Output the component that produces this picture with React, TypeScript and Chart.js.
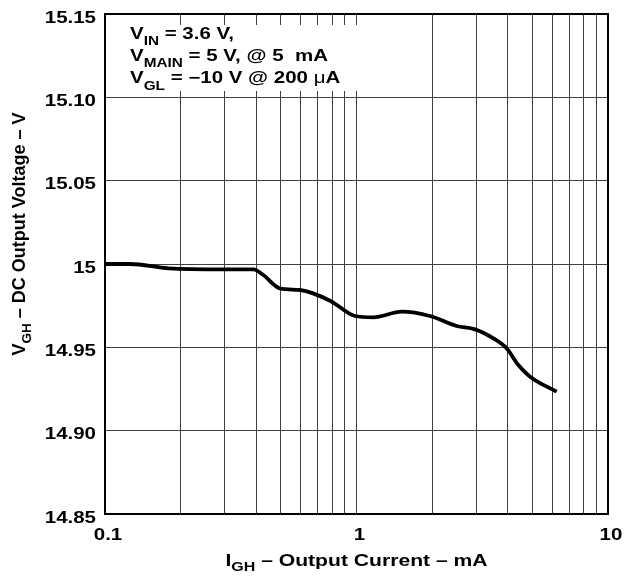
import React, { useEffect, useRef } from "react";
import { Chart, registerables } from "chart.js";

Chart.register(...registerables);

// ---- data ----
const CURRENT_MA = [0.1, 0.126, 0.179, 0.295, 0.389, 0.426, 0.496, 0.596, 0.785, 0.986, 1.166, 1.513, 1.96, 2.5, 2.96, 3.5, 3.95, 4.4, 4.9, 6.25];
const VOLTAGE_V = [15.0, 15.0, 14.9974, 14.9968, 14.9968, 14.9934, 14.9854, 14.9844, 14.978, 14.9688, 14.968, 14.9714, 14.9688, 14.9628, 14.9608, 14.9554, 14.9494, 14.9394, 14.9324, 14.9234];

const X_GRID_VALUES = [0.1, 0.2, 0.3, 0.4, 0.5, 0.6, 0.7, 0.8, 0.9, 1, 2, 3, 4, 5, 6, 7, 8, 9, 10];
const X_LABEL_VALUES = [0.1, 1, 10];
const X_TICK_LABELS = ["0.1", "1", "10"];
const Y_TICK_VALUES = [14.85, 14.9, 14.95, 15, 15.05, 15.1, 15.15];
const Y_TICK_LABELS = ["14.85", "14.90", "14.95", "15", "15.05", "15.10", "15.15"];

type Seg = { t: string; sub?: boolean; light?: boolean };

const X_TITLE: Seg[] = [{ t: "I" }, { t: "GH", sub: true }, { t: " – Output Current – mA" }];
const Y_TITLE: Seg[] = [{ t: "V" }, { t: "GH", sub: true }, { t: " – DC Output Voltage – V" }];
const NOTE_LINES: Seg[][] = [
  [{ t: "V" }, { t: "IN", sub: true }, { t: " = 3.6 V," }],
  [{ t: "V" }, { t: "MAIN", sub: true }, { t: " = 5 V, @ 5  mA" }],
  [{ t: "V" }, { t: "GL", sub: true }, { t: " = −10 V @ 200 " }, { t: "μ", light: true }, { t: "A" }],
];

const FAMILY = '"Liberation Sans", Arial, Helvetica, sans-serif';
const GRID_COLOR = "#404040";

function drawRich(
  ctx: CanvasRenderingContext2D,
  segs: Seg[],
  x: number,
  y: number,
  o: { size: number; subSize: number; subDy: number; sx: number; align: "left" | "center" | "right"; rotate?: boolean }
) {
  const fontOf = (s: Seg) => `${s.light ? "" : "bold "}${s.sub ? o.subSize : o.size}px ${FAMILY}`;
  let total = 0;
  const widths = segs.map((s) => {
    ctx.font = fontOf(s);
    const w = ctx.measureText(s.t).width;
    total += w;
    return w;
  });
  let start = o.align === "center" ? -total / 2 : o.align === "right" ? -total : 0;
  ctx.save();
  ctx.translate(x, y);
  if (o.rotate) ctx.rotate(-Math.PI / 2);
  ctx.scale(o.sx, 1);
  ctx.fillStyle = "#000";
  ctx.textBaseline = "alphabetic";
  ctx.textAlign = "left";
  segs.forEach((s, i) => {
    ctx.font = fontOf(s);
    ctx.fillText(s.t, start, s.sub ? o.subDy : 0);
    start += widths[i];
  });
  ctx.restore();
}

const textPlugin = {
  id: "textPlugin",
  beforeDatasetsDraw(chart: any) {
    const ctx: CanvasRenderingContext2D = chart.ctx;
    const { left } = chart.chartArea;
    ctx.save();
    ctx.fillStyle = "#fff";
    ctx.fillRect(left + 1, 25, 362 - left - 1, 66);
    ctx.restore();
    NOTE_LINES.forEach((line, i) => {
      drawRich(ctx, line, 130, 38.5 + i * 22.4, { size: 16, subSize: 12, subDy: 6.5, sx: 1.28, align: "left" });
    });
  },
  afterDraw(chart: any) {
    const ctx: CanvasRenderingContext2D = chart.ctx;
    const { left, top, right, bottom } = chart.chartArea;
    const xs = chart.scales.x;
    const ys = chart.scales.y;
    // frame
    ctx.save();
    ctx.strokeStyle = "#000";
    ctx.lineWidth = 2;
    ctx.strokeRect(left, top, right - left, bottom - top);
    ctx.restore();
    // y tick labels
    Y_TICK_VALUES.forEach((v, i) => {
      const py = ys.getPixelForValue(v);
      drawRich(ctx, [{ t: Y_TICK_LABELS[i] }], 96, py + 8.5, { size: 16, subSize: 12, subDy: 0, sx: 1.28, align: "right" });
    });
    // x tick labels
    X_LABEL_VALUES.forEach((v, i) => {
      const px = xs.getPixelForValue(v);
      drawRich(ctx, [{ t: X_TICK_LABELS[i] }], px + 3, bottom + 26, { size: 16, subSize: 12, subDy: 0, sx: 1.28, align: "center" });
    });
    // titles
    drawRich(ctx, X_TITLE, (left + right) / 2, 566, { size: 16.5, subSize: 12.5, subDy: 5, sx: 1.28, align: "center" });
    drawRich(ctx, Y_TITLE, 25, 234, { size: 18, subSize: 13.5, subDy: 5.5, sx: 1, align: "center", rotate: true });
  },
};

export default function App() {
  const ref = useRef<HTMLCanvasElement | null>(null);
  useEffect(() => {
    if (!ref.current) return;
    const chart = new Chart(ref.current, {
      type: "line",
      data: {
        datasets: [
          {
            data: CURRENT_MA.map((x, i) => ({ x, y: VOLTAGE_V[i] })),
            borderColor: "#000",
            borderWidth: 3.8,
            pointRadius: 0,
            fill: false,
            cubicInterpolationMode: "monotone",
          },
        ],
      },
      options: {
        responsive: true,
        maintainAspectRatio: false,
        animation: false,
        layout: { padding: { top: 14, right: 18, left: 0, bottom: 0 } },
        plugins: { legend: { display: false }, tooltip: { enabled: false } },
        scales: {
          x: {
            type: "logarithmic",
            min: 0.1,
            max: 10,
            afterBuildTicks: (s: any) => {
              s.ticks = X_GRID_VALUES.map((value) => ({ value }));
            },
            afterFit: (s: any) => {
              s.height = 64;
            },
            ticks: { display: false },
            grid: { color: GRID_COLOR, lineWidth: 1, drawTicks: false },
            border: { display: false },
          },
          y: {
            type: "linear",
            min: 14.85,
            max: 15.15,
            afterBuildTicks: (s: any) => {
              s.ticks = Y_TICK_VALUES.map((value) => ({ value }));
            },
            afterFit: (s: any) => {
              s.width = 105;
            },
            ticks: { display: false },
            grid: { color: GRID_COLOR, lineWidth: 1, drawTicks: false },
            border: { display: false },
          },
        },
      } as any,
      plugins: [textPlugin],
    });
    return () => chart.destroy();
  }, []);
  return (
    <div style={{ position: "absolute", left: 0, top: 0, width: 626, height: 578, background: "#fff" }}>
      <canvas ref={ref} />
    </div>
  );
}
